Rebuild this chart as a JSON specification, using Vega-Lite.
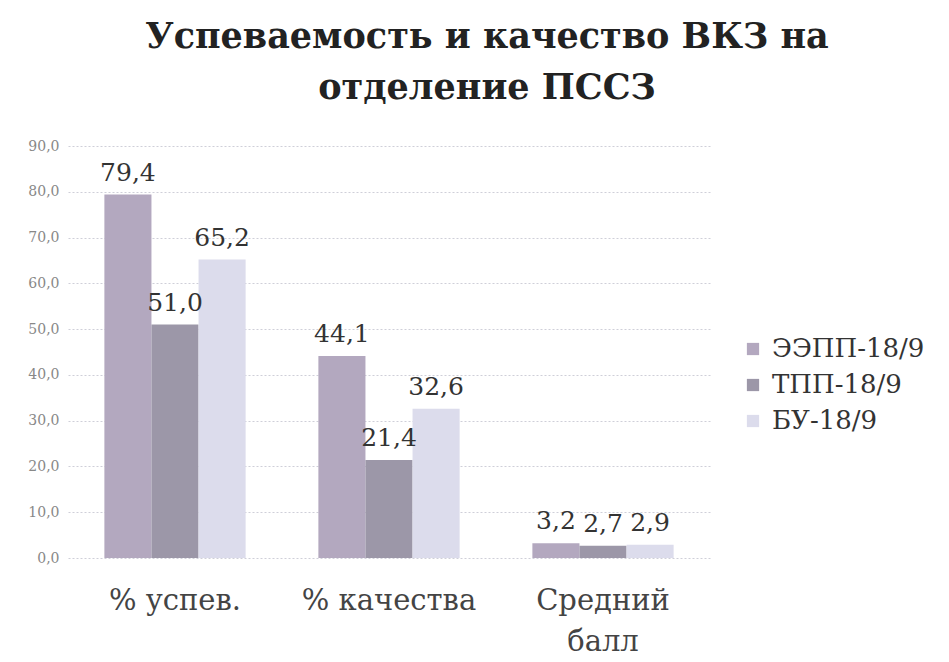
{
  "$schema": "https://vega.github.io/schema/vega-lite/v6.json",
  "width": 642,
  "height": 412,
  "autosize": {"type": "none"},
  "padding": {"left": 68, "top": 146, "right": 239, "bottom": 104},
  "background": "white",
  "title": {
    "text": ["Успеваемость и качество ВКЗ на", "отделение ПССЗ"],
    "font": "DejaVu Serif",
    "fontSize": 35,
    "fontWeight": "bold",
    "color": "#222222",
    "lineHeight": 51,
    "anchor": "middle",
    "dx": 98,
    "offset": 33
  },
  "config": {
    "locale": {"number": {"decimal": ",", "thousands": " ", "grouping": [3], "currency": ["", ""]}},
    "view": {"stroke": null},
    "font": "DejaVu Serif"
  },
  "data": {
    "values": [
      {"category": "% успев.", "group": "ЭЭПП-18/9", "value": 79.4},
      {"category": "% успев.", "group": "ТПП-18/9", "value": 51.0},
      {"category": "% успев.", "group": "БУ-18/9", "value": 65.2},
      {"category": "% качества", "group": "ЭЭПП-18/9", "value": 44.1},
      {"category": "% качества", "group": "ТПП-18/9", "value": 21.4},
      {"category": "% качества", "group": "БУ-18/9", "value": 32.6},
      {"category": "Средний балл", "group": "ЭЭПП-18/9", "value": 3.2},
      {"category": "Средний балл", "group": "ТПП-18/9", "value": 2.7},
      {"category": "Средний балл", "group": "БУ-18/9", "value": 2.9}
    ]
  },
  "encoding": {
    "x": {
      "field": "category",
      "type": "nominal",
      "sort": null,
      "scale": {"paddingInner": 0.34, "paddingOuter": 0.17},
      "axis": {
        "title": null,
        "labelAngle": 0,
        "labelFont": "DejaVu Serif",
        "labelFontSize": 29,
        "labelColor": "#444444",
        "labelPadding": 28,
        "labelLineHeight": 41,
        "labelLimit": 400,
        "labelExpr": "datum.label == 'Средний балл' ? ['Средний', 'балл'] : datum.label",
        "ticks": false,
        "domain": false
      }
    },
    "xOffset": {"field": "group", "type": "nominal", "sort": ["ЭЭПП-18/9", "ТПП-18/9", "БУ-18/9"]},
    "y": {
      "field": "value",
      "type": "quantitative",
      "scale": {"domain": [0, 90], "nice": false},
      "axis": {
        "title": null,
        "values": [0, 10, 20, 30, 40, 50, 60, 70, 80, 90],
        "format": ".1f",
        "labelFont": "DejaVu Serif",
        "labelFontSize": 14,
        "labelColor": "#888888",
        "labelPadding": 9,
        "ticks": false,
        "domain": false,
        "grid": true,
        "gridColor": "#cfcfd8",
        "gridDash": [2, 2],
        "gridWidth": 1
      }
    }
  },
  "layer": [
    {
      "mark": {"type": "bar"},
      "encoding": {
        "color": {
          "field": "group",
          "type": "nominal",
          "sort": ["ЭЭПП-18/9", "ТПП-18/9", "БУ-18/9"],
          "scale": {"domain": ["ЭЭПП-18/9", "ТПП-18/9", "БУ-18/9"], "range": ["#b3a8bf", "#9c97a8", "#dcdcec"]},
          "legend": {
            "title": null,
            "orient": "none",
            "legendX": 672,
            "legendY": 190,
            "symbolType": "square",
            "symbolSize": 150,
            "symbolStrokeWidth": 0,
            "labelFont": "DejaVu Serif",
            "labelFontSize": 26,
            "labelLimit": 400,
            "labelColor": "#333333",
            "rowPadding": 10,
            "labelOffset": 6
          }
        }
      }
    },
    {
      "mark": {"type": "text", "baseline": "alphabetic", "dy": -14, "font": "DejaVu Serif", "fontSize": 25, "color": "#333333"},
      "encoding": {
        "text": {"field": "value", "type": "quantitative", "format": ".1f"}
      }
    }
  ]
}
